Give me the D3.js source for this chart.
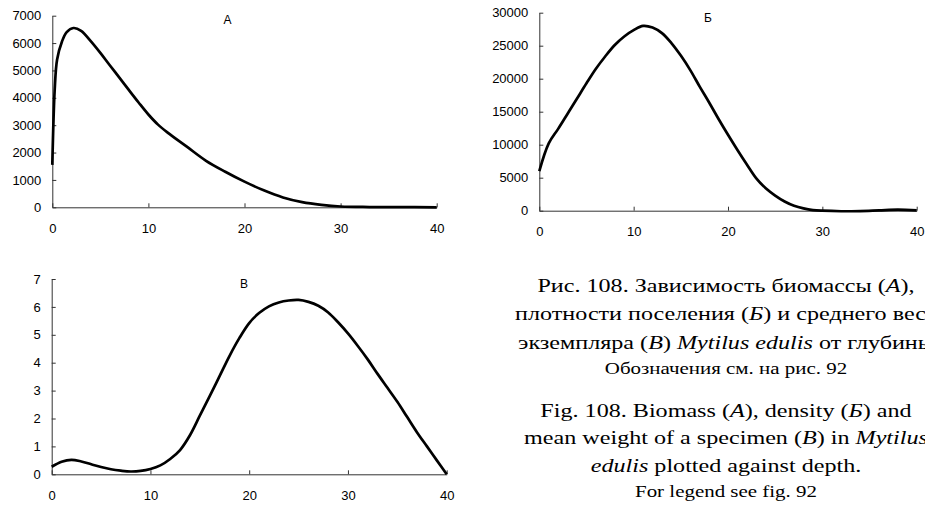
<!DOCTYPE html>
<html><head><meta charset="utf-8">
<script src="https://cdn.jsdelivr.net/npm/d3@7"></script>
<style>
html,body{margin:0;padding:0;background:#fff;}
svg{display:block;}
.tick text{font-family:"Liberation Sans",Arial,sans-serif;font-size:13px;fill:#000;}
.cap{font-family:"Liberation Serif","Times New Roman",serif;fill:#000;}
</style>
</head><body>
<svg id="c" width="925" height="505"></svg>
<script>
// ---- data ----
const depthA = [0,0.25,0.5,1,1.5,2.2,3,4,5,6,7,8,9,10,11,12,14,16,18,20,22,24,26,28,30,33,36,40];
const biomassA = [1550,4300,5400,6050,6400,6550,6450,6070,5640,5180,4730,4270,3820,3390,3020,2730,2215,1700,1300,937,620,360,190,90,30,10,5,0];

const depthB = [0,1,2,3,4,5,6,7,8,9,10,11,12,13,14,15,16,17,18,19,20,21,22,23,24,25,26,27,28,29,30,32,34,36,38,40];
const densityB = [6000,10200,12400,14700,17000,19300,21500,23400,25100,26400,27350,28000,27750,26900,25400,23500,21300,18800,16400,13900,11500,9200,7000,4900,3400,2300,1400,750,350,100,0,-80,-50,50,150,50];

const depthV = [0,1,2,3,4,5,6,7,8,9,10,11,12,13,14,15,16,17,18,19,20,21,22,23,24,25,26,27,28,29,30,31,32,33,34,35,36,37,38,39,40];
const weightV = [0.27,0.45,0.52,0.46,0.36,0.26,0.18,0.13,0.10,0.12,0.19,0.32,0.55,0.87,1.4,2.1,2.8,3.52,4.24,4.88,5.42,5.78,6.02,6.16,6.23,6.25,6.18,6.04,5.8,5.45,5.05,4.6,4.12,3.6,3.1,2.6,2.05,1.5,1.0,0.5,0.0];

const xTicks = [0,10,20,30,40];
const yTicksA = [0,1000,2000,3000,4000,5000,6000,7000];
const yTicksB = [0,5000,10000,15000,20000,25000,30000];
const yTicksV = [0,1,2,3,4,5,6,7];
const panelLabels = ["А","Б","В"];

const svg = d3.select("#c");

function panel(opts){
  const x = d3.scaleLinear().domain([0,40]).range([opts.x0,opts.x1]);
  const y = d3.scaleLinear().domain([0,opts.ymax]).range([opts.y0,opts.yTop]);
  const g = svg.append("g");
  const ax = g.append("g").attr("transform",`translate(0,${opts.y0})`)
    .call(d3.axisBottom(x).tickValues(xTicks).tickSizeInner(-4).tickSizeOuter(0).tickPadding(16.5).tickFormat(d3.format("d")));
  const ay = g.append("g").attr("transform",`translate(${opts.x0},0)`)
    .call(d3.axisLeft(y).tickValues(opts.yTicks).tickSizeInner(-4).tickSizeOuter(0).tickPadding(11).tickFormat(d3.format("d")));
  [ax,ay].forEach(a=>{a.selectAll("path,line").attr("stroke","#333").attr("stroke-width",1);});
  const line = d3.line().x((d,i)=>x(opts.xs[i])).y(d=>y(d)).curve(d3.curveCatmullRom.alpha(0.5));
  g.append("path").attr("d",line(opts.ys)).attr("fill","none").attr("stroke","#000").attr("stroke-width",2.7).attr("stroke-linejoin","round");
  g.append("text").attr("x",opts.lx).attr("y",opts.ly).attr("text-anchor","middle")
    .style("font-family","'Liberation Sans',Arial,sans-serif").style("font-size","12px").text(opts.label);
}

panel({x0:52.3,x1:436.7,y0:207.3,yTop:15.7,ymax:7000,yTicks:yTicksA,xs:depthA,ys:biomassA,label:panelLabels[0],lx:227.5,ly:24});
panel({x0:539.3,x1:916.7,y0:210.7,yTop:12.7,ymax:30000,yTicks:yTicksB,xs:depthB,ys:densityB,label:panelLabels[1],lx:708,ly:21.7});
panel({x0:51.7,x1:446.7,y0:474.3,yTop:279,ymax:7,yTicks:yTicksV,xs:depthV,ys:weightV,label:panelLabels[2],lx:244,ly:288});

// caption
const capLines = [
  {y:292, size:19, parts:[["Рис. 108. Зависимость биомассы (",0],["А",1],["),",0]]},
  {y:320, size:19, parts:[["плотности поселения (",0],["Б",1],[") и среднего веса",0]]},
  {y:348.5, size:19, parts:[["экземпляра (",0],["В",1],[") ",0],["Mytilus edulis",1],[" от глубины",0]]},
  {y:374, size:16.5, parts:[["Обозначения см. на рис. 92",0]]},
  {y:416.5, size:19, parts:[["Fig. 108. Biomass (",0],["A",1],["), density (",0],["Б",1],[") and",0]]},
  {y:444, size:19, parts:[["mean weight of a specimen (",0],["B",1],[") in ",0],["Mytilus",1]]},
  {y:471.5, size:19, parts:[["edulis",1],[" plotted against depth.",0]]},
  {y:496.5, size:16.5, parts:[["For legend see fig. 92",0]]}
];
capLines.forEach(l=>{
  const t = svg.append("text").attr("class","cap")
    .attr("transform",`translate(726,${l.y}) scale(1.27,1)`)
    .attr("text-anchor","middle").style("font-size",l.size+"px");
  l.parts.forEach(p=>{
    t.append("tspan").text(p[0]).style("font-style",p[1]?"italic":"normal");
  });
});
</script>
</body></html>
